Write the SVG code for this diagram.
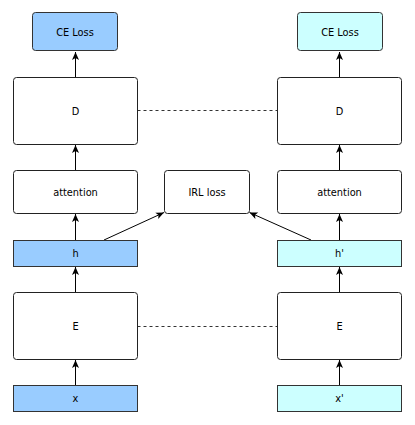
<svg xmlns="http://www.w3.org/2000/svg" width="415" height="425" viewBox="0 0 415 425">
<style>
.box{fill:#fff;stroke:#222;stroke-width:1}
.blue{fill:#99CCFF;stroke:#333;stroke-width:1}
.cyan{fill:#CCFFFF;stroke:#333;stroke-width:1}
text{font-family:"DejaVu Sans","Liberation Sans",sans-serif;font-size:9.8px;fill:#000;text-anchor:middle;dominant-baseline:central}
.arr{stroke:#000;stroke-width:1;fill:none;marker-end:url(#ah)}
.dash{stroke:#333;stroke-width:1;fill:none;stroke-dasharray:3 3}
</style>
<defs>
<marker id="ah" viewBox="-9 -4 10 8" refX="0" refY="0" markerWidth="10" markerHeight="8" markerUnits="userSpaceOnUse" orient="auto">
<path d="M0,0 L-8,-3.5 L-6,0 L-8,3.5 Z" fill="#000"/>
</marker>
</defs>
<rect width="415" height="425" fill="#fff"/>
<g id="connectors">
<path class="arr" d="M75.5,386 L75.5,360"/>
<path class="arr" d="M75.5,292 L75.5,267"/>
<path class="arr" d="M75.5,240 L75.5,214"/>
<path class="arr" d="M75.5,170 L75.5,145"/>
<path class="arr" d="M75.5,77 L75.5,52"/>
<path class="arr" d="M339.5,386 L339.5,360"/>
<path class="arr" d="M339.5,292 L339.5,267"/>
<path class="arr" d="M339.5,240 L339.5,214"/>
<path class="arr" d="M339.5,170 L339.5,145"/>
<path class="arr" d="M339.5,77 L339.5,52"/>
<path class="arr" d="M104,240 L164,212.5"/>
<path class="arr" d="M311,240 L249.5,212.5"/>
<path class="dash" d="M137.5,110.5 L277.5,110.5"/>
<path class="dash" d="M137.5,326.5 L277.5,326.5"/>
</g>
<g id="ce-left"><rect class="blue" x="32.5" y="12.5" width="85" height="38" rx="3"/><text x="75" y="32">CE Loss</text></g>
<g id="d-left"><rect class="box" x="13.5" y="77.5" width="124" height="67" rx="3"/><text x="75.5" y="111">D</text></g>
<g id="att-left"><rect class="box" x="13.5" y="170.5" width="124" height="43" rx="3"/><text x="75.5" y="192">attention</text></g>
<g id="irl"><rect class="box" x="164.5" y="170.5" width="85" height="43" rx="3"/><text x="207" y="192">IRL loss</text></g>
<g id="h-left"><rect class="blue" x="13.5" y="240.5" width="124" height="26"/><text x="75.5" y="253.5">h</text></g>
<g id="e-left"><rect class="box" x="13.5" y="292.5" width="124" height="67" rx="3"/><text x="75.5" y="326">E</text></g>
<g id="x-left"><rect class="blue" x="13.5" y="385.5" width="124" height="26"/><text x="75.5" y="398.5">x</text></g>
<g id="ce-right"><rect class="cyan" x="297.5" y="12.5" width="85" height="38" rx="3"/><text x="340" y="32">CE Loss</text></g>
<g id="d-right"><rect class="box" x="277.5" y="77.5" width="124" height="67" rx="3"/><text x="339.5" y="111">D</text></g>
<g id="att-right"><rect class="box" x="277.5" y="170.5" width="124" height="43" rx="3"/><text x="339.5" y="192">attention</text></g>
<g id="h-right"><rect class="cyan" x="277.5" y="240.5" width="124" height="26"/><text x="339.5" y="253.5">h'</text></g>
<g id="e-right"><rect class="box" x="277.5" y="292.5" width="124" height="67" rx="3"/><text x="339.5" y="326">E</text></g>
<g id="x-right"><rect class="cyan" x="277.5" y="385.5" width="124" height="26"/><text x="339.5" y="398.5">x'</text></g>
</svg>
